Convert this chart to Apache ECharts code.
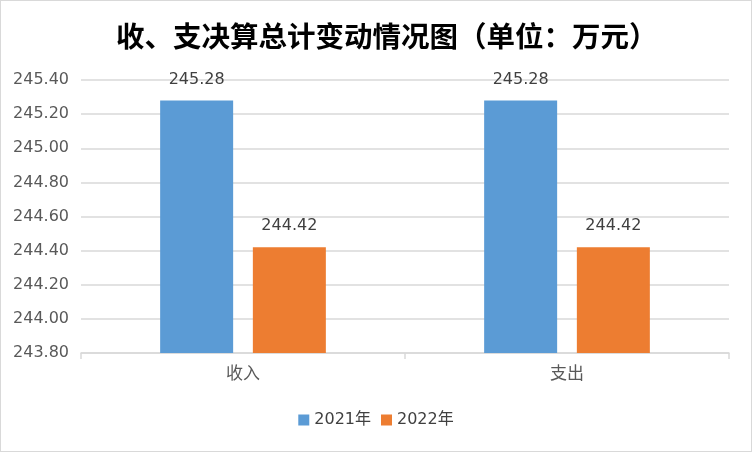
<!DOCTYPE html>
<html>
<head>
<meta charset="utf-8">
<script src="https://cdn.jsdelivr.net/npm/echarts@6/dist/echarts.min.js"></script>
<style>
  html, body { margin: 0; padding: 0; background: #fff; }
  #chart { width: 750px; height: 450px; border: 1px solid #d9d9d9; }
</style>
</head>
<body>
<div id="chart"></div>
<script>
const categories = ['收入', '支出'];
const values2021 = [245.28, 245.28];
const values2022 = [244.42, 244.42];
const seriesNames = ['2021年', '2022年'];

const chart = echarts.init(document.getElementById('chart'));
// wide digits like the original, CJK falls back to Noto
const labelFont = "'DejaVu Sans', 'Noto Sans CJK SC', sans-serif";

const label = {
  show: true,
  position: 'top',
  distance: 13,
  color: '#404040',
  fontSize: 16,
  fontFamily: labelFont,
  formatter: p => p.value.toFixed(2)
};

chart.setOption({
  animation: false,
  title: {
    text: '收、支决算总计变动情况图（单位：万元）',
    left: 110,
    top: 16,
    textStyle: {
      fontSize: 28.5,
      fontWeight: 'bold',
      color: '#000',
      fontFamily: "'Noto Sans CJK SC', sans-serif"
    }
  },
  legend: {
    bottom: 18,
    left: 'center',
    itemWidth: 11,
    itemHeight: 11,
    itemGap: 10,
    icon: 'rect',
    textStyle: { color: '#404040', fontSize: 16, fontFamily: labelFont },
    data: seriesNames
  },
  grid: { left: 80, right: 22, top: 79, bottom: 98 },
  xAxis: {
    type: 'category',
    data: categories,
    axisLine: { lineStyle: { color: '#d9d9d9', width: 1.5 } },
    axisTick: { show: true, length: 6, lineStyle: { color: '#d9d9d9', width: 1.5 } },
    axisLabel: { color: '#595959', fontSize: 17, fontFamily: labelFont, margin: 13 }
  },
  yAxis: {
    type: 'value',
    min: 243.8,
    max: 245.4,
    interval: 0.2,
    axisLine: { show: false },
    axisTick: { show: false },
    splitLine: { lineStyle: { color: '#d9d9d9', width: 1.5 } },
    axisLabel: {
      color: '#595959',
      fontSize: 16,
      fontFamily: labelFont,
      margin: 12,
      formatter: v => v.toFixed(2)
    }
  },
  series: [
    {
      name: seriesNames[0],
      type: 'bar',
      data: values2021,
      barWidth: 73,
      barGap: '27%',
      itemStyle: { color: '#5B9BD5' },
      label: label
    },
    {
      name: seriesNames[1],
      type: 'bar',
      data: values2022,
      barWidth: 73,
      itemStyle: { color: '#ED7D31' },
      label: label
    }
  ]
});
</script>
</body>
</html>
